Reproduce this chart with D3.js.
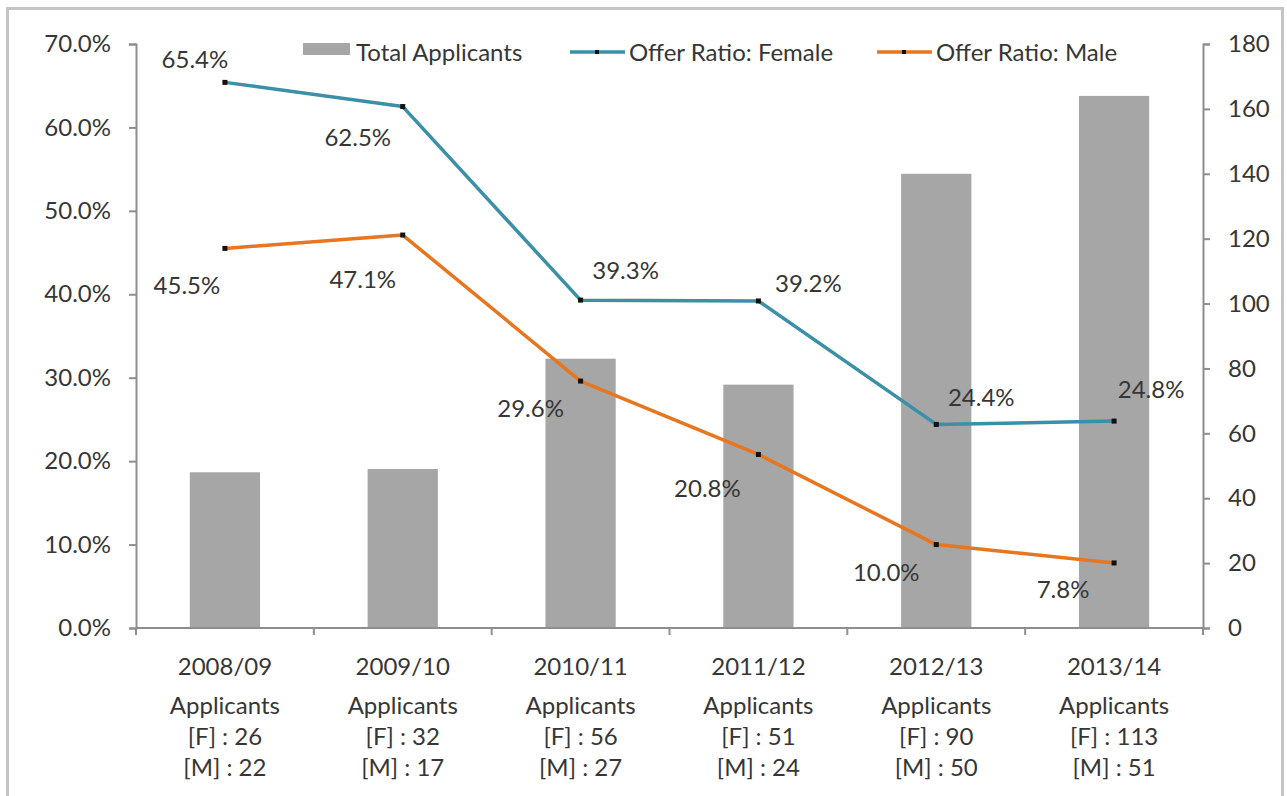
<!DOCTYPE html>
<html>
<head>
<meta charset="utf-8">
<script src="https://cdn.jsdelivr.net/npm/d3@7"></script>
<style>
  body { margin: 0; background: #fff; }
  text { font-family: Lato, "Open Sans", sans-serif; fill: #363636; }
</style>
</head>
<body>
<div id="chart"></div>
<script>
// DATA
var categories = ["2008/09", "2009/10", "2010/11", "2011/12", "2012/13", "2013/14"];
var applicantsF = [26, 32, 56, 51, 90, 113];
var applicantsM = [22, 17, 27, 24, 50, 51];
var totalApplicants = [48, 49, 83, 75, 140, 164];
var offerFemale = [65.4, 62.5, 39.3, 39.2, 24.4, 24.8];
var offerMale = [45.5, 47.1, 29.6, 20.8, 10.0, 7.8];
var leftTicks = [0, 10, 20, 30, 40, 50, 60, 70];
var rightTicks = [0, 20, 40, 60, 80, 100, 120, 140, 160, 180];

// label nudges (px) for the hand placed data labels
var femaleLabelShift = [[-30, -23], [-45, 31], [45, -30], [50, -17], [45, -27], [37, -31]];
var maleLabelShift = [[-38, 37], [-40, 45], [-50, 28], [-51, 34], [-50, 28], [-51, 27]];

var femaleColor = "#3b8fa6";
var maleColor = "#e8761e";
var barColor = "#a6a6a6";
var axisColor = "#8e8e8e";
var fontSize = "24px";

// CHART SETUP
var W = 1287, H = 796;
var margin = { top: 44, right: 84, bottom: 168, left: 136 },
  width = W - margin.left - margin.right,
  height = H - margin.top - margin.bottom;

var root = d3.select("#chart").append("svg")
  .attr("width", W)
  .attr("height", H);

// outer frame (bottom edge falls outside the picture)
root.append("rect")
  .attr("x", 7.5).attr("y", 8.5)
  .attr("width", 1275).attr("height", 820)
  .attr("fill", "none")
  .attr("stroke", "#c4c4c4")
  .attr("stroke-width", 3);

var svg = root.append("g")
  .attr("transform", "translate(" + margin.left + "," + margin.top + ")");

// SCALES
var xScale = d3.scaleBand().domain(categories).range([0, width]).paddingInner(0);
var yLeft = d3.scaleLinear().domain([0, 70]).range([height, 0]);
var yRight = d3.scaleLinear().domain([0, 180]).range([height, 0]);
var barW = xScale.bandwidth() * 0.395;

// BARS
svg.selectAll(".bar")
  .data(categories)
  .enter()
  .append("rect")
  .attr("class", "bar")
  .attr("x", (d) => xScale(d) + xScale.bandwidth() / 2 - barW / 2)
  .attr("y", (d, i) => yRight(totalApplicants[i]))
  .attr("width", barW)
  .attr("height", (d, i) => height - yRight(totalApplicants[i]))
  .attr("fill", barColor);

// AXES
var axisLeft = d3.axisLeft(yLeft).tickValues(leftTicks)
  .tickFormat((d) => d.toFixed(1) + "%").tickSize(7).tickPadding(18);
var gl = svg.append("g").call(axisLeft);

var axisRight = d3.axisRight(yRight).tickValues(rightTicks)
  .tickSize(7).tickPadding(18);
var gr = svg.append("g").attr("transform", "translate(" + width + ",0)").call(axisRight);

[gl, gr].forEach(function (g) {
  g.select(".domain").attr("stroke", axisColor).attr("stroke-width", 2);
  g.selectAll(".tick line").attr("stroke", axisColor).attr("stroke-width", 2);
  g.selectAll("text").style("font-size", fontSize).attr("fill", "#363636");
});

// bottom axis with ticks on category boundaries
var gb = svg.append("g").attr("transform", "translate(0," + height + ")");
gb.append("line")
  .attr("x1", 0).attr("x2", width)
  .attr("stroke", axisColor).attr("stroke-width", 2);
gb.selectAll(".btick")
  .data(categories.concat(["end"]))
  .enter()
  .append("line")
  .attr("class", "btick")
  .attr("x1", (d, i) => i * xScale.bandwidth())
  .attr("x2", (d, i) => i * xScale.bandwidth())
  .attr("y1", 0).attr("y2", 7)
  .attr("stroke", axisColor).attr("stroke-width", 2);

var catX = (d) => xScale(d) + xScale.bandwidth() / 2;
var catLabels = gb.selectAll(".cat")
  .data(categories)
  .enter()
  .append("text")
  .attr("class", "cat")
  .attr("text-anchor", "middle")
  .style("font-size", fontSize);
catLabels.append("tspan").attr("x", catX).attr("y", 47).text((d) => d);
catLabels.append("tspan").attr("x", catX).attr("y", 86).text("Applicants");
catLabels.append("tspan").attr("x", catX).attr("y", 117)
  .text((d, i) => "[F] : " + applicantsF[i]);
catLabels.append("tspan").attr("x", catX).attr("y", 148)
  .text((d, i) => "[M] : " + applicantsM[i]);

// LINES
var cx = (i) => xScale(categories[i]) + xScale.bandwidth() / 2;
var line = d3.line().x((d, i) => cx(i)).y((d) => yLeft(d));

function drawSeries(values, color, shifts) {
  svg.append("path")
    .datum(values)
    .attr("d", line)
    .attr("fill", "none")
    .attr("stroke", color)
    .attr("stroke-width", 3.5)
    .attr("stroke-linejoin", "round");
  svg.selectAll(null)
    .data(values)
    .enter()
    .append("rect")
    .attr("x", (d, i) => cx(i) - 2.5)
    .attr("y", (d) => yLeft(d) - 2.5)
    .attr("width", 5).attr("height", 5)
    .attr("fill", "#111");
  svg.selectAll(null)
    .data(values)
    .enter()
    .append("text")
    .attr("x", (d, i) => cx(i) + shifts[i][0])
    .attr("y", (d, i) => yLeft(d) + shifts[i][1])
    .attr("text-anchor", "middle")
    .attr("dy", "0.35em")
    .style("font-size", fontSize)
    .text((d) => d.toFixed(1) + "%");
}
drawSeries(offerFemale, femaleColor, femaleLabelShift);
drawSeries(offerMale, maleColor, maleLabelShift);

// LEGEND
var legend = root.append("g");
legend.append("rect")
  .attr("x", 303).attr("y", 43).attr("width", 47).attr("height", 12)
  .attr("fill", barColor);
legend.append("text").attr("x", 356).attr("y", 53).attr("dy", "0.35em")
  .style("font-size", fontSize).text("Total Applicants");

[[570, femaleColor, "Offer Ratio: Female"], [877, maleColor, "Offer Ratio: Male"]].forEach(function (l) {
  legend.append("line")
    .attr("x1", l[0]).attr("x2", l[0] + 55)
    .attr("y1", 52).attr("y2", 52)
    .attr("stroke", l[1]).attr("stroke-width", 3.5);
  legend.append("rect")
    .attr("x", l[0] + 25).attr("y", 50).attr("width", 4).attr("height", 4)
    .attr("fill", "#111");
  legend.append("text").attr("x", l[0] + 59).attr("y", 53).attr("dy", "0.35em")
    .style("font-size", fontSize).text(l[2]);
});
</script>
</body>
</html>
